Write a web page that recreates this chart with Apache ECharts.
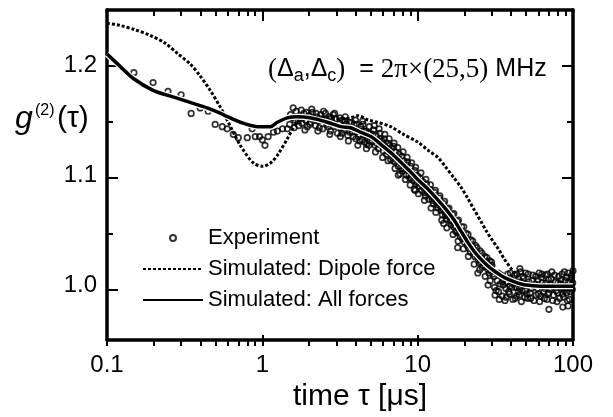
<!DOCTYPE html>
<html><head><meta charset="utf-8">
<script src="https://cdn.jsdelivr.net/npm/echarts@6/dist/echarts.min.js"></script>
<style>html,body{margin:0;padding:0;background:#fff}#c{width:613px;height:417px}</style>
</head><body><div id="c"></div>
<script>
// ---- axis ticks ----
const xMajorTicks = [0.1, 1, 10, 100];
const xMinorTicks = [0.2,0.3,0.4,0.5,0.6,0.7,0.8,0.9, 2,3,4,5,6,7,8,9, 20,30,40,50,60,70,80,90];
const yMajorTicks = [1.0, 1.1, 1.2];
const yMinorTicks = [1.05, 1.15];
const xName = 'time τ [μs]';
const seriesNames = ['Experiment', 'Simulated: Dipole force', 'Simulated: All forces'];

// ---- experiment (tau [us], g2) ----
const expSparse = [[0.149,1.193],[0.198,1.184],[0.247,1.176],[0.300,1.173],[0.348,1.156],[0.398,1.161],[0.448,1.158],
 [0.497,1.146],[0.552,1.144],[0.594,1.142],[0.650,1.137],[0.700,1.134],[0.800,1.134],[0.86,1.142],[0.90,1.135],
 [0.96,1.135],[1.00,1.132],[1.04,1.127],[1.09,1.135],[1.18,1.139],[1.25,1.140],[1.35,1.142],[1.45,1.142]];
const expRise = [[1.50,1.146],[1.55,1.152],[1.60,1.143],[1.65,1.158],[1.70,1.149],[1.75,1.153],[1.80,1.147],[1.85,1.156],
 [1.90,1.150],[1.95,1.144],[2.00,1.154],[2.05,1.148],[2.10,1.157],[2.15,1.151],[2.20,1.145],[2.25,1.153],[2.30,1.149],
 [2.38,1.155],[2.45,1.142],[2.52,1.150],[2.60,1.146],[2.68,1.153],[2.75,1.140],[2.82,1.148],[2.90,1.144],[2.98,1.151],
 [3.05,1.138],[3.12,1.147],[3.20,1.143],[3.28,1.150],[3.35,1.141],[3.45,1.146],[3.55,1.136],[3.62,1.148],[3.70,1.142],
 [3.80,1.139],[3.90,1.146],[4.00,1.133],[4.10,1.141],[4.20,1.137],[4.30,1.144],[4.40,1.132],[4.50,1.140],[4.60,1.136],
 [4.70,1.128],[4.80,1.138],[4.90,1.131],[5.00,1.135],
 [1.52,1.155],[1.58,1.161],[1.62,1.150],[1.72,1.145],[1.82,1.152],[1.92,1.157],[2.02,1.146],[2.12,1.152],[2.22,1.156],
 [2.33,1.143],[2.42,1.151],[2.55,1.156],[2.65,1.144],[2.78,1.152],[2.86,1.155],[3.00,1.145],[3.15,1.152],[3.25,1.138],
 [3.40,1.149],[3.50,1.143],[3.65,1.139],[3.75,1.148],[3.85,1.135],[3.95,1.142],[4.05,1.146],[4.15,1.135],[4.25,1.131],
 [4.35,1.140],[4.45,1.146],[4.55,1.130],[4.65,1.140],[4.75,1.134],[4.85,1.127],[4.95,1.138],
 [1.78,1.159],[2.08,1.160],[2.48,1.158],[2.92,1.156],[3.42,1.153],[3.98,1.150],[4.42,1.149],[4.88,1.144],
 [1.88,1.141],[2.28,1.140],[2.72,1.137],[3.18,1.135],[3.58,1.131],[4.12,1.127],[4.68,1.124]];
const expDecline = [[5.1,1.130],[5.2,1.141],[5.3,1.127],[5.4,1.136],[5.5,1.132],[5.6,1.124],[5.7,1.138],[5.8,1.127],
 [5.9,1.131],[6.0,1.122],[6.1,1.133],[6.2,1.125],[6.3,1.119],[6.4,1.129],[6.5,1.121],[6.6,1.127],[6.7,1.114],[6.8,1.124],
 [6.9,1.118],[7.0,1.126],[7.1,1.112],[7.2,1.121],[7.35,1.116],[7.5,1.108],[7.6,1.119],[7.75,1.111],[7.9,1.117],[8.0,1.104],
 [8.15,1.113],[8.3,1.108],[8.45,1.100],[8.6,1.112],[8.75,1.104],[8.9,1.097],[9.05,1.108],[9.2,1.101],[9.4,1.095],[9.6,1.104],
 [9.8,1.092],[10.0,1.099],[10.2,1.090],[10.4,1.097],[10.6,1.086],[10.8,1.094],[11.0,1.088],[11.2,1.081],[11.4,1.092],
 [11.6,1.084],[11.8,1.078],[12.0,1.087],[12.3,1.080],[12.6,1.074],[12.9,1.084],[13.2,1.076],[13.5,1.070],[13.8,1.079],
 [14.1,1.071],[14.4,1.064],[14.7,1.074],[15.0,1.066],[15.3,1.060],[15.6,1.069],[16.0,1.062],[16.4,1.055],[16.8,1.064],
 [17.2,1.057],[17.6,1.049],[18.0,1.058],[18.4,1.051],[18.8,1.044],[19.2,1.053],[19.6,1.046],[20.0,1.039],[20.5,1.047],
 [21.0,1.040],[21.5,1.033],[22.0,1.041],[22.5,1.035],[23.0,1.028],[23.5,1.036],[24.0,1.029],[24.6,1.023],[25.2,1.031],
 [25.8,1.024],[26.4,1.018],[27.0,1.026],[27.7,1.020],[28.4,1.014],[29.1,1.022],[29.8,1.016],[30.5,1.010],
 [5.15,1.137],[5.45,1.129],[5.75,1.133],[6.05,1.128],[6.35,1.124],[6.65,1.121],[6.95,1.113],[7.25,1.115],[7.55,1.114],
 [7.85,1.106],[8.2,1.106],[8.5,1.109],[8.8,1.100],[9.1,1.097],[9.5,1.100],[9.9,1.094],[10.3,1.093],[10.7,1.090],
 [11.1,1.084],[11.5,1.087],[11.9,1.083],[12.4,1.077],[12.8,1.079],[13.3,1.073],[13.7,1.075],[14.2,1.068],[14.6,1.069],
 [15.1,1.063],[15.5,1.064],[16.2,1.058],[16.6,1.059],[17.0,1.053],[17.4,1.054],[17.9,1.048],[18.6,1.047],[19.0,1.049],
 [19.4,1.042],[20.2,1.043],[20.8,1.036],[21.3,1.037],[21.8,1.030],[22.8,1.031],[23.3,1.026],[24.3,1.026],[24.9,1.020],
 [25.5,1.021],[26.1,1.016],[27.3,1.017],[28.0,1.021],[28.8,1.011],[29.5,1.013],[30.1,1.018],
 [5.25,1.145],[5.65,1.142],[6.15,1.137],[6.55,1.133],[7.05,1.129],[7.45,1.125],[8.05,1.121],[8.55,1.116],[9.15,1.111],
 [9.7,1.107],[10.5,1.102],[11.3,1.096],[12.1,1.091],[13.0,1.086],[13.9,1.081],[14.9,1.076],[15.9,1.070],[17.1,1.065],
 [18.3,1.059],[19.8,1.053],[21.1,1.046],[22.6,1.040],[24.1,1.034],[25.9,1.029],[27.9,1.025],[29.9,1.021],
 [5.35,1.121],[5.95,1.116],[6.45,1.113],[7.15,1.106],[7.7,1.101],[8.35,1.096],[8.95,1.091],[9.65,1.086],[10.1,1.083],
 [11.05,1.077],[12.2,1.070],[13.1,1.066],[14.3,1.059],[15.4,1.052],[16.9,1.046],[18.2,1.040],[19.7,1.033],[21.2,1.026],
 [23.1,1.019],[25.1,1.014],[27.2,1.008],[29.3,1.004],
 [7.5,1.100],[9.5,1.087],[14.7,1.056],[18.1,1.034],[24.4,1.011],[28.4,1.000]];
const expTail = [[31,1.008],[32,0.995],[33,1.011],[34,1.001],[35,0.990],[36,1.006],[37,0.997],[38,1.010],[39,0.992],
 [40,1.004],[41,0.987],[42,1.009],[43,0.998],[44,1.003],[45,0.991],[46,1.012],[47,0.995],[48,1.006],[49,0.989],[50,1.001],
 [51.5,1.010],[53,0.993],[54.5,1.004],[56,0.986],[57.5,1.008],[59,0.997],[60.5,1.011],[62,0.990],[63.5,1.002],[65,0.994],
 [66.5,1.009],[68,0.987],[69.5,1.005],[71,0.996],[73,1.012],[75,0.991],[77,1.003],[79,0.985],[81,1.008],[83,0.998],
 [85,1.010],[87,0.989],[89,1.004],[91,0.993],[93,1.011],[95,0.987],[97,1.006],[99,0.996],[100,1.013],
 [31.5,0.991],[32.5,1.004],[33.5,0.987],[34.5,1.009],[35.5,1.000],[36.5,0.986],[37.5,1.003],[38.5,0.994],[39.5,1.011],
 [40.5,0.998],[41.5,1.006],[42.5,0.988],[43.5,1.010],[44.5,0.994],[45.5,1.001],[46.5,0.985],[47.5,1.008],[48.5,1.000],
 [49.5,1.011],[50.5,0.992],[52,1.003],[53.5,0.988],[55,1.009],[56.5,0.999],[58,0.991],[59.5,1.005],[61,0.985],[62.5,1.007],
 [64,0.999],[65.5,0.988],[67,1.002],[68.5,1.010],[70,0.993],[72,1.000],[74,0.986],[76,1.009],[78,0.995],[80,1.002],
 [82,0.988],[84,1.005],[86,0.992],[88,1.012],[90,0.999],[92,0.986],[94,1.003],[96,0.994],[98,1.009],
 [31.2,0.998],[33.2,0.994],[35.2,1.003],[37.2,0.989],[39.2,0.999],[41.2,1.001],[43.2,0.990],[45.2,0.997],[47.2,1.002],
 [49.2,0.995],[51,0.988],[54,0.997],[57,1.001],[60,0.992],[63,1.010],[66,0.997],[69,0.992],[72.5,1.006],[75.5,0.998],
 [79.5,0.993],[83.5,1.001],[87.5,0.995],[91.5,1.007],[95.5,0.998],[99.5,1.002],
 [45.5,1.015],[70,0.978],[86,0.980],[93,0.981]];

// ---- simulations ----
const dipoleCurve = [[0.1,1.238],[0.121,1.236],[0.152,1.232],[0.189,1.227],[0.236,1.220],[0.287,1.210],[0.343,1.201],
 [0.398,1.190],[0.462,1.177],[0.535,1.162],[0.594,1.150],[0.721,1.127],[0.875,1.111],[1.01,1.108],[1.13,1.111],
 [1.25,1.118],[1.45,1.133],[1.68,1.148],[2.03,1.152],[2.6,1.152],[3.2,1.151],[3.7,1.152],[4.1,1.154],[4.8,1.150],
 [5.5,1.148],[6.7,1.144],[8.1,1.137],[10,1.130],[11.8,1.122],[13.5,1.116],[15.2,1.107],[17,1.098],[19,1.089],[21,1.079],
 [23,1.069],[25.5,1.058],[28,1.048],[30.5,1.040],[33,1.033],[36,1.024],[40,1.015],[44,1.008],[48,1.003],[55,1.000],
 [70,0.999],[100,0.999]];
const allForcesCurve = [[0.1,1.210],[0.121,1.199],[0.147,1.188],[0.198,1.177],[0.266,1.171],[0.343,1.166],[0.442,1.161],
 [0.559,1.155],[0.721,1.148],[0.928,1.144],[1.13,1.144],[1.25,1.148],[1.45,1.152],[1.68,1.153],[2.03,1.152],[2.62,1.148],
 [3.19,1.144],[3.70,1.143],[4.28,1.139],[5.0,1.135],[6.0,1.126],[7.0,1.118],[8.0,1.110],[9.0,1.103],[10,1.096],
 [11.5,1.088],[13,1.080],[15,1.070],[17,1.060],[19,1.049],[21,1.039],[23,1.031],[25,1.025],[28,1.018],[31,1.013],
 [36,1.007],[42,1.003],[50,1.000],[62,0.999],[80,0.999],[100,0.999]];

const FONT = 'Liberation Sans';
const SERIF = 'Liberation Serif';
const chart = echarts.init(document.getElementById('c'), null, {renderer: 'canvas'});

const gridBox = {left: 107, right: 40, top: 10, bottom: 71};
const X_RANGE = {type: 'log', logBase: 10, min: 0.1, max: 100};
const Y_RANGE = {type: 'value', min: 0.95, max: 1.25};

// grid 0: frame, labels, data.  grids 1-4 (same box): tick marks only.
function xMain(pos, labels) {
  return Object.assign({}, X_RANGE, {
    position: pos, gridIndex: 0,
    axisLine: {show: true, lineStyle: {color: '#000', width: 3.5}},
    axisTick: {show: false},
    axisLabel: labels ? {show: true, customValues: xMajorTicks, color: '#000', fontSize: 24, fontFamily: FONT, margin: 13,
      showMinLabel: true, showMaxLabel: true, formatter: v => String(Number((+v).toPrecision(2)))} : {show: false},
    splitLine: {show: false}, minorTick: {show: false}, minorSplitLine: {show: false},
    name: labels ? xName : '', nameLocation: 'middle', nameGap: 35,
    nameTextStyle: {fontSize: 30, fontFamily: FONT, color: '#000', padding: [0, 0, 0, 40]}
  });
}
function yMain(pos, labels) {
  return Object.assign({}, Y_RANGE, {
    position: pos, gridIndex: 0,
    axisLine: {show: true, lineStyle: {color: '#000', width: 3.5}},
    axisTick: {show: false},
    axisLabel: labels ? {show: true, customValues: yMajorTicks, color: '#000', fontSize: 24, fontFamily: FONT, margin: 10,
      formatter: v => (+v).toFixed(1)} : {show: false},
    splitLine: {show: false}, minorTick: {show: false}, minorSplitLine: {show: false}
  });
}
function tickAxis(range, pos, grid, values, len) {
  return Object.assign({}, range, {
    position: pos, gridIndex: grid,
    axisLine: {show: false},
    axisTick: {show: true, inside: true, length: len, lineStyle: {color: '#000', width: 2}, customValues: values},
    axisLabel: {show: false}, splitLine: {show: false}
  });
}
function hidden(range, grid) { return Object.assign({}, range, {gridIndex: grid, show: false}); }

const expAll = expSparse.concat(expRise, expDecline, expTail);

chart.setOption({
  animation: false,
  backgroundColor: '#fff',
  grid: [0, 1, 2, 3, 4].map(() => Object.assign({}, gridBox)),
  xAxis: [xMain('bottom', true), xMain('top', false),
          tickAxis(X_RANGE, 'bottom', 1, xMinorTicks, 6), tickAxis(X_RANGE, 'top', 1, xMinorTicks, 6),
          tickAxis(X_RANGE, 'bottom', 2, xMajorTicks, 11), tickAxis(X_RANGE, 'top', 2, xMajorTicks, 11),
          hidden(X_RANGE, 3), hidden(X_RANGE, 4)],
  yAxis: [yMain('left', true), yMain('right', false),
          hidden(Y_RANGE, 1), hidden(Y_RANGE, 2),
          tickAxis(Y_RANGE, 'left', 3, yMajorTicks, 11), tickAxis(Y_RANGE, 'right', 3, yMajorTicks, 11),
          tickAxis(Y_RANGE, 'left', 4, yMinorTicks, 6), tickAxis(Y_RANGE, 'right', 4, yMinorTicks, 6)],
  legend: {
    orient: 'vertical', left: 142, top: 227, itemWidth: 60, itemHeight: 6, itemGap: 9, padding: 0,
    textStyle: {fontSize: 22, fontFamily: FONT, color: '#000'},
    data: [seriesNames[0],
           {name: seriesNames[1], itemStyle: {opacity: 0}},
           {name: seriesNames[2], itemStyle: {opacity: 0}}],
    selectedMode: false
  },
  series: [
    {name: seriesNames[0], type: 'scatter', data: expAll, symbol: 'circle', symbolSize: 5.5,
     itemStyle: {color: 'rgba(0,0,0,0)', borderColor: '#000', borderWidth: 1.7}, z: 2},
    {name: seriesNames[1], type: 'line', data: dipoleCurve, symbol: 'none', smooth: 0.3,
     itemStyle: {color: '#000'}, lineStyle: {color: '#000', width: 3, type: [3, 2]}, z: 3},
    {name: 'halo', type: 'line', data: allForcesCurve, symbol: 'none', smooth: 0.3,
     itemStyle: {color: '#fff'}, lineStyle: {color: '#fff', width: 6}, z: 4},
    {name: seriesNames[2], type: 'line', data: allForcesCurve, symbol: 'none', smooth: 0.3,
     itemStyle: {color: '#000'}, lineStyle: {color: '#000', width: 3.5}, z: 5}
  ],
  graphic: [
    {type: 'text', left: 15, top: 103, style: {text: 'g', font: 'italic 32px "' + FONT + '"', fill: '#000'}},
    {type: 'text', left: 35, top: 103, style: {text: '(2)', font: '16px "' + FONT + '"', fill: '#000'}},
    {type: 'text', left: 57, top: 104, style: {text: '(τ)', font: '30px "' + FONT + '"', fill: '#000'}},
    {type: 'text', left: 268, top: 56, style: {
      text: '{p|(}{s|Δ}{sub|a}{s|,Δ}{sub|c}{p|)}{s|  = }{p|2π×(25,5)}{s| MHz}',
      rich: {
        p: {fontFamily: SERIF, fontSize: 27, lineHeight: 32, color: '#000'},
        s: {fontFamily: FONT, fontSize: 25, lineHeight: 32, color: '#000'},
        sub: {fontFamily: FONT, fontSize: 18, verticalAlign: 'bottom', color: '#000'}
      }
    }}
  ]
});
</script></body></html>
